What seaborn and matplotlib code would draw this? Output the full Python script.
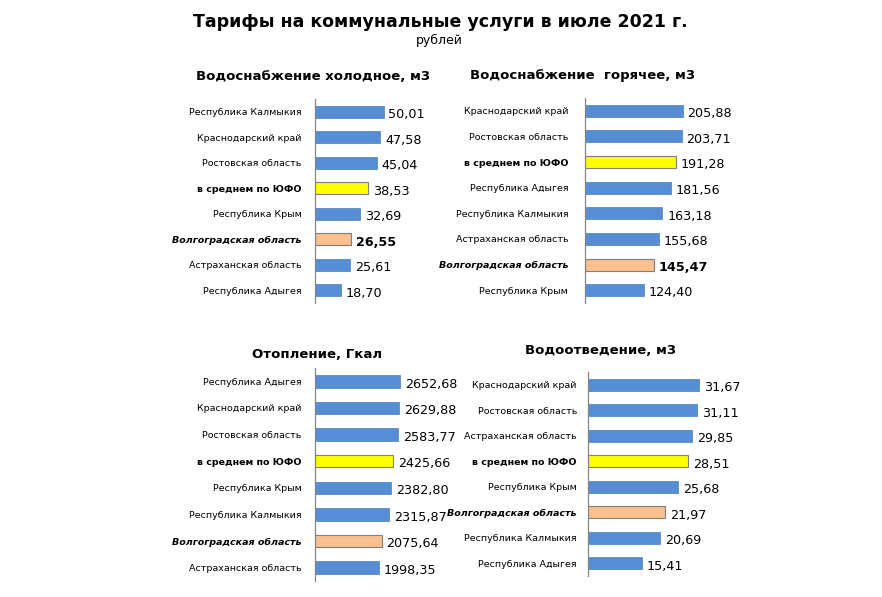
import matplotlib
matplotlib.use("Agg")
import matplotlib.pyplot as plt
import seaborn as sns
import pandas as pd

sns.set_style("white")
plt.rcParams['font.family'] = ['DejaVu Sans']
plt.rcParams['text.color'] = 'black'
plt.rcParams['ytick.color'] = 'black'
plt.rcParams['xtick.color'] = 'black'

# Data (rubles, July 2021)
cold_regions = ["Республика Калмыкия", "Краснодарский край", "Ростовская область",
                "в среднем по ЮФО", "Республика Крым", "Волгоградская область",
                "Астраханская область", "Республика Адыгея"]
cold_values = [50.01, 47.58, 45.04, 38.53, 32.69, 26.55, 25.61, 18.70]

hot_regions = ["Краснодарский край", "Ростовская область", "в среднем по ЮФО",
               "Республика Адыгея", "Республика Калмыкия", "Астраханская область",
               "Волгоградская область", "Республика Крым"]
hot_values = [205.88, 203.71, 191.28, 181.56, 163.18, 155.68, 145.47, 124.40]

heat_regions = ["Республика Адыгея", "Краснодарский край", "Ростовская область",
                "в среднем по ЮФО", "Республика Крым", "Республика Калмыкия",
                "Волгоградская область", "Астраханская область"]
heat_values = [2652.68, 2629.88, 2583.77, 2425.66, 2382.80, 2315.87, 2075.64, 1998.35]

sewer_regions = ["Краснодарский край", "Ростовская область", "Астраханская область",
                 "в среднем по ЮФО", "Республика Крым", "Волгоградская область",
                 "Республика Калмыкия", "Республика Адыгея"]
sewer_values = [31.67, 31.11, 29.85, 28.51, 25.68, 21.97, 20.69, 15.41]

AVG = "в среднем по ЮФО"
VOLG = "Волгоградская область"

W, H = 882, 597
fig = plt.figure(figsize=(W / 100, H / 100), dpi=100)


def px_axes(left, top, width, bottom):
    return fig.add_axes([left / W, 1 - bottom / H, width / W, (bottom - top) / H])


def panel(ax, regions, values, title, title_xy, xmax, bold_volg, pad):
    df = pd.DataFrame({"region": regions, "value": values})
    colors = {}
    for r in regions:
        if r == AVG:
            colors[r] = "#FFFF00"
        elif r == VOLG:
            colors[r] = "#FAC090"
        else:
            colors[r] = "#558ED5"
    sns.barplot(data=df, x="value", y="region", hue="region", palette=colors,
                order=regions, hue_order=regions, legend=False, width=0.47,
                ax=ax, saturation=1)
    for p, r in zip(ax.patches, regions):
        if r in (AVG, VOLG):
            p.set_edgecolor("#7F7F7F")
            p.set_linewidth(0.8)
        else:
            p.set_edgecolor("#4A7EBB")
            p.set_linewidth(0.5)
    ax.set_xlim(0, xmax)
    ax.set_xlabel("")
    ax.set_ylabel("")
    ax.set_xticks([])
    sns.despine(ax=ax, top=True, right=True, bottom=True)
    ax.spines["left"].set_color("#868686")
    ax.spines["left"].set_linewidth(0.9)
    # pad is in points (1 pt = 1.39 px at 100 dpi)
    ax.tick_params(axis="y", length=0, pad=pad, labelsize=6.8, labelcolor="black")
    for lab in ax.get_yticklabels():
        t = lab.get_text()
        if t == AVG:
            lab.set_fontweight("bold")
        elif t == VOLG:
            lab.set_fontweight("bold")
            lab.set_fontstyle("italic")
    for i, (r, v) in enumerate(zip(regions, values)):
        txt = f"{v:.2f}".replace(".", ",")
        weight = "bold" if (r == VOLG and bold_volg) else "normal"
        ax.annotate(txt, xy=(v, i), xytext=(3.5, -2), textcoords="offset points",
                    ha="left", va="center", fontsize=9.2, fontweight=weight,
                    color="black")
    fig.text(title_xy[0] / W, 1 - title_xy[1] / H, title, ha="center", va="center",
             fontsize=9.5, fontweight="bold")


ax1 = px_axes(315, 99, 130, 303)
panel(ax1, cold_regions, cold_values, "Водоснабжение холодное, м3", (313, 77),
      130 / 1.37, True, 9.5)

ax2 = px_axes(585, 98, 130, 303)
panel(ax2, hot_regions, hot_values, "Водоснабжение  горячее, м3", (583, 76),
      130 / 0.474, True, 12)

ax3 = px_axes(315, 368, 130, 581)
panel(ax3, heat_regions, heat_values, "Отопление, Гкал", (317, 354),
      130 / 0.0321, False, 9.5)

ax4 = px_axes(588, 372, 130, 576)
panel(ax4, sewer_regions, sewer_values, "Водоотведение, м3", (601, 350),
      130 / 3.5, False, 8)

fig.text(440 / W, 1 - 22 / H, "Тарифы на коммунальные услуги в июле 2021 г.",
         ha="center", va="center", fontsize=12.5, fontweight="bold")
fig.text(439 / W, 1 - 40 / H, "рублей", ha="center", va="center", fontsize=9)

fig.savefig("out.png", dpi=100)
